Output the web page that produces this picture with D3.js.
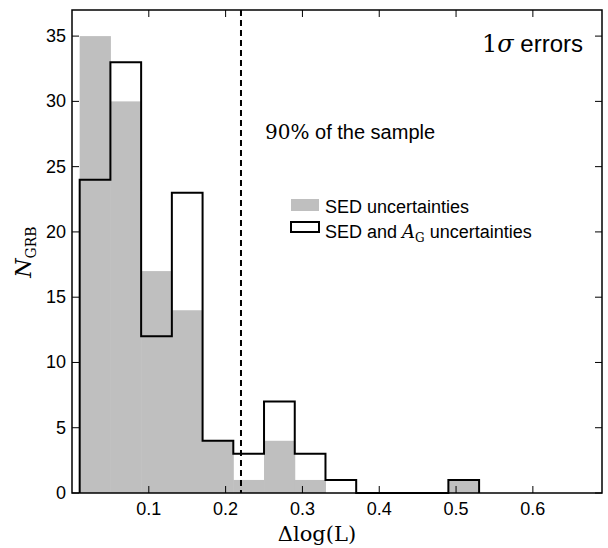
<!DOCTYPE html>
<html><head><meta charset="utf-8">
<script src="https://cdn.jsdelivr.net/npm/d3@7"></script>
<style>body{margin:0;background:#fff}text{font-family:"Liberation Sans",Arial,sans-serif}.m{font-family:"DejaVu Serif","Liberation Serif",serif}</style>
</head><body><svg width="608" height="548"></svg>
<script>
const binEdges = [0.01,0.05,0.09,0.13,0.17,0.21,0.25,0.29,0.33,0.37,0.41,0.45,0.49,0.53];
const sedCounts = [35,30,17,14,4,1,4,1,0,0,0,0,1];
const sedAgCounts = [24,33,12,23,4,3,7,3,1,0,0,0,1];
const xTicks = [0.1,0.2,0.3,0.4,0.5,0.6];
const yTicks = [0,5,10,15,20,25,30,35];
const cut90 = 0.22;

const svg = d3.select("svg");
const L = 72, R = 602, T = 10, B = 493;
const x = d3.scaleLinear().domain([0, 0.69]).range([L, R]);
const y = d3.scaleLinear().domain([0, 37]).range([B, T]);

// grey histogram
svg.selectAll(".bar").data(sedCounts).enter().append("rect")
  .attr("x", (d,i) => x(binEdges[i])).attr("width", (d,i) => x(binEdges[i+1]) - x(binEdges[i]) + 0.5)
  .attr("y", d => y(d)).attr("height", d => y(0) - y(d)).attr("fill", "#bfbfbf");

// step outline
let pts = [[binEdges[0], 0]];
sedAgCounts.forEach((c,i) => { pts.push([binEdges[i], c]); pts.push([binEdges[i+1], c]); });
pts.push([binEdges[binEdges.length-1], 0]);
svg.append("path").attr("d", d3.line().x(d => x(d[0])).y(d => y(d[1]))(pts))
  .attr("fill", "none").attr("stroke", "#000").attr("stroke-width", 2);

// 90% line
svg.append("line").attr("x1", x(cut90)).attr("x2", x(cut90)).attr("y1", T).attr("y2", B)
  .attr("stroke", "#000").attr("stroke-width", 2).attr("stroke-dasharray", "6,4");

// frame + ticks
svg.append("rect").attr("x", L).attr("y", T).attr("width", R-L).attr("height", B-T)
  .attr("fill", "none").attr("stroke", "#000").attr("stroke-width", 1.5);
const g = svg.append("g");
xTicks.forEach(t => {
  g.append("line").attr("x1", x(t)).attr("x2", x(t)).attr("y1", B).attr("y2", B-7).attr("stroke", "#000");
  g.append("line").attr("x1", x(t)).attr("x2", x(t)).attr("y1", T).attr("y2", T+7).attr("stroke", "#000");
  g.append("text").attr("x", x(t)).attr("y", B+22).attr("text-anchor", "middle").attr("font-size", 18).text(t.toFixed(1));
});
yTicks.forEach(t => {
  g.append("line").attr("x1", L).attr("x2", L+7).attr("y1", y(t)).attr("y2", y(t)).attr("stroke", "#000");
  g.append("line").attr("x1", R).attr("x2", R-7).attr("y1", y(t)).attr("y2", y(t)).attr("stroke", "#000");
  g.append("text").attr("x", L-6).attr("y", y(t)+6).attr("text-anchor", "end").attr("font-size", 18).text(t);
});

// labels
svg.append("text").attr("class", "m").attr("x", (L+R)/2 - 20).attr("y", 541).attr("text-anchor", "middle")
  .attr("font-size", 21).text("Δlog(L)");
const yl = svg.append("text").attr("class", "m").attr("transform", "translate(31,252) rotate(-90)")
  .attr("text-anchor", "middle").attr("font-size", 22);
yl.append("tspan").attr("font-style", "italic").text("N");
yl.append("tspan").attr("font-size", 14).attr("dy", 5).text("GRB");

const t1 = svg.append("text").attr("x", 583).attr("y", 52).attr("text-anchor", "end").attr("font-size", 24);
t1.append("tspan").attr("class", "m").text("1");
t1.append("tspan").attr("class", "m").attr("font-style", "italic").text("σ");
t1.append("tspan").text(" errors");

const t2 = svg.append("text").attr("x", 265).attr("y", 139).attr("font-size", 20);
t2.append("tspan").attr("class", "m").text("90%");
t2.append("tspan").text(" of the sample");

// legend
svg.append("rect").attr("x", 291).attr("y", 199).attr("width", 28).attr("height", 12).attr("fill", "#bfbfbf");
svg.append("text").attr("x", 325).attr("y", 213).attr("font-size", 18).text("SED uncertainties");
svg.append("rect").attr("x", 291).attr("y", 222).attr("width", 28).attr("height", 10).attr("fill", "none")
  .attr("stroke", "#000").attr("stroke-width", 2);
const lt = svg.append("text").attr("x", 325).attr("y", 238).attr("font-size", 18);
lt.append("tspan").text("SED and ");
lt.append("tspan").attr("class", "m").attr("font-style", "italic").text("A");
lt.append("tspan").attr("class", "m").attr("font-size", 12).attr("dy", 4).text("G");
lt.append("tspan").attr("dy", -4).text(" uncertainties");
</script></body></html>
